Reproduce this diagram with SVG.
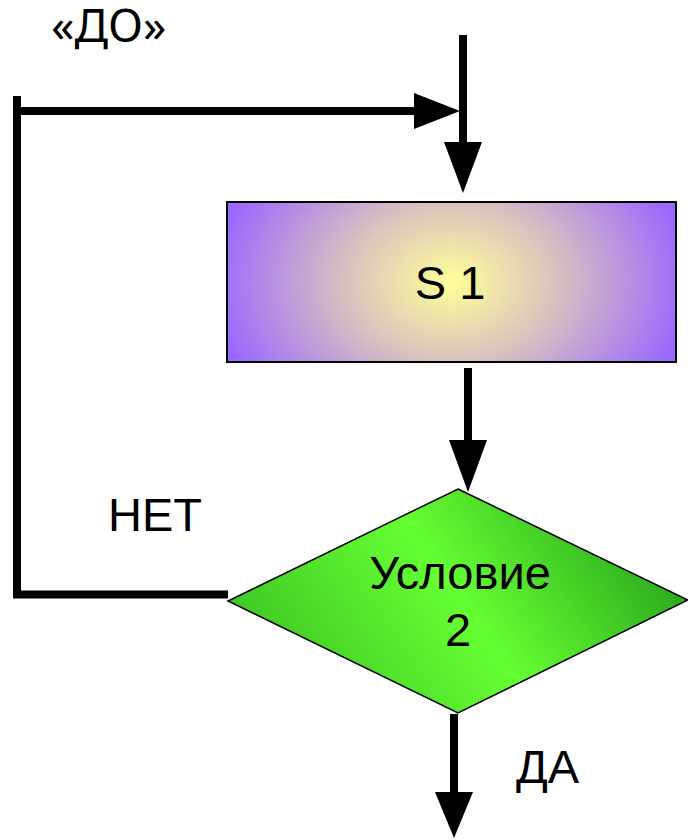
<svg xmlns="http://www.w3.org/2000/svg" width="688" height="840" viewBox="0 0 688 840">
<defs>
<radialGradient id="gRect" cx="451" cy="282" r="240" gradientUnits="userSpaceOnUse" gradientTransform="translate(451 282) scale(1 0.75) translate(-451 -282)">
<stop offset="0" stop-color="#ffff99"/>
<stop offset="0.45" stop-color="#d8c0c0"/>
<stop offset="1" stop-color="#9966ff"/>
</radialGradient>
<linearGradient id="gDia" x1="300" y1="710" x2="620" y2="490" gradientUnits="userSpaceOnUse">
<stop offset="0" stop-color="#40c826"/>
<stop offset="0.5" stop-color="#66ff33"/>
<stop offset="1" stop-color="#2aa81c"/>
</linearGradient>
<style>
.ln{stroke:#000;stroke-width:8;fill:none}
.ah{fill:#000}
.t{font-family:"Liberation Sans",Arial,sans-serif;fill:#000}
.t2{font-family:"Noto Sans","Open Sans",sans-serif;fill:#000}
</style>
</defs>
<g id="connectors">
<path class="ln" d="M463 35 V150"/>
<polygon class="ah" points="444,142 482,142 463,193"/>
<path class="ln" d="M17 96 V598 M13 594.5 H228"/>
<path class="ln" d="M13 111 H420"/>
<polygon class="ah" points="414,93 460,111 414,129"/>
<path class="ln" d="M468 368 V445"/>
<polygon class="ah" points="449,440 487,440 468,492"/>
<path class="ln" d="M454 714 V795"/>
<polygon class="ah" points="435,792 473,792 454,838"/>
</g>
<g id="s1">
<rect x="227" y="202" width="449" height="160" fill="url(#gRect)" stroke="#000" stroke-width="2"/>
<text class="t" x="450" y="299" font-size="47" text-anchor="middle">S 1</text>
</g>
<g id="cond">
<polygon points="458,489 688,600 458,713 228,601" fill="url(#gDia)" stroke="#000" stroke-width="1.5"/>
<text class="t" x="460" y="589" font-size="47" text-anchor="middle">Условие</text>
<text class="t" x="458" y="646" font-size="47" text-anchor="middle">2</text>
</g>
<g id="labels">
<text class="t2" x="51" y="42" font-size="46">«ДО»</text>
<text class="t" x="108" y="531" font-size="47">НЕТ</text>
<text class="t" x="516" y="783" font-size="47">ДА</text>
</g>
</svg>
